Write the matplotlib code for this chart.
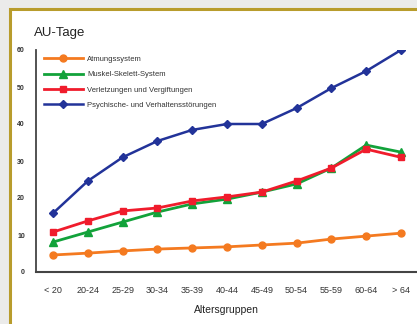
import matplotlib
matplotlib.use("Agg")
import matplotlib.pyplot as plt
from matplotlib.patches import Rectangle

plt.rcParams["font.family"] = ["Liberation Sans", "DejaVu Sans"]

altersgruppen = ["< 20", "20-24", "25-29", "30-34", "35-39", "40-44",
                 "45-49", "50-54", "55-59", "60-64", "> 64"]
atmung = [4.6, 5.1, 5.7, 6.2, 6.5, 6.8, 7.3, 7.8, 8.9, 9.7, 10.5]
muskel = [8.1, 10.8, 13.5, 16.2, 18.4, 19.7, 21.6, 23.8, 28.1, 34.3, 32.4]
verletzung = [10.8, 13.8, 16.5, 17.3, 19.2, 20.3, 21.6, 24.6, 28.1, 33.2, 31.0]
psyche = [15.9, 24.6, 31.0, 35.4, 38.4, 40.0, 40.0, 44.3, 49.7, 54.3, 60.0]

fig = plt.figure(figsize=(4.17, 3.24), dpi=100, facecolor="#ebebea")
fig.patches.append(Rectangle((10 / 417, -0.05), 1.1, (324 - 9) / 324 + 0.05,
                             transform=fig.transFigure, facecolor="white",
                             edgecolor="#b89c2c", linewidth=2.2, zorder=-5))

ax = fig.add_axes([36 / 417, 52 / 324, 381 / 417, 222 / 324])
ax.set_zorder(2)
ax.set_facecolor("none")
x = list(range(len(altersgruppen)))

ax.plot(x, atmung, color="#f47a20", marker="o", ms=5, lw=2, label="Atmungssystem")
ax.plot(x, muskel, color="#12a23a", marker="^", ms=5.5, lw=2, label="Muskel-Skelett-System")
ax.plot(x, verletzung, color="#f01c2c", marker="s", ms=5, lw=2, label="Verletzungen und Vergiftungen")
ax.plot(x, psyche, color="#223399", marker="D", ms=4.5, lw=1.8, label="Psychische- und Verhaltensstörungen")

ax.set_xlim(-0.49, 10.46)
ax.set_ylim(0, 60)
ax.set_yticks(range(0, 61, 10))
ax.set_xticks(x)
ax.set_xticklabels(altersgruppen, fontsize=6.5, color="#333333")
ax.tick_params(axis="y", labelsize=5, colors="#333333", length=0, pad=8)
for lbl in ax.get_yticklabels():
    lbl.set_fontweight("bold")
ax.tick_params(axis="x", length=0, pad=10)
for s in ["top", "right"]:
    ax.spines[s].set_visible(False)
ax.spines["left"].set_color("#444444")
ax.spines["bottom"].set_color("#444444")
ax.spines["left"].set_linewidth(1.3)
ax.spines["bottom"].set_linewidth(1.5)

ax.set_xlabel("Altersgruppen", fontsize=7.5, color="#222222", labelpad=7)
fig.text(34 / 417, 1 - 33 / 324, "AU-Tage", fontsize=9.5, color="#222222",
         va="center", ha="left")

ax.legend(loc="upper left", bbox_to_anchor=(0.01, 0.995), frameon=False,
          fontsize=5.5, handlelength=5, handletextpad=0.6, labelspacing=1.05,
          borderaxespad=0.2, labelcolor="#333333")

fig.savefig("out.png", dpi=100, facecolor=fig.get_facecolor())
